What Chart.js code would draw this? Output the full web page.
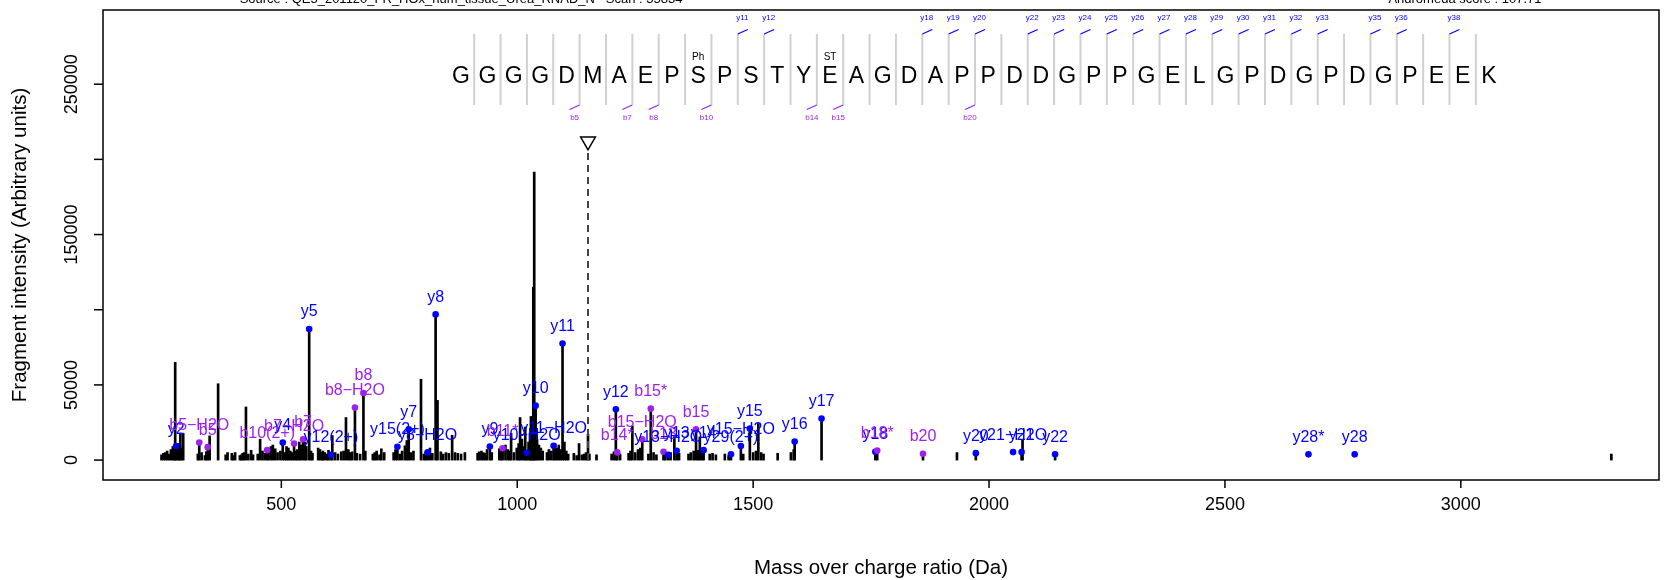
<!DOCTYPE html>
<html>
<head>
<meta charset="utf-8">
<script src="https://cdn.jsdelivr.net/npm/chart.js@4.4.0/dist/chart.umd.min.js"></script>
<style>
html, body { margin: 0; padding: 0; background: #fff; overflow: hidden; }
canvas { display: block; }
</style>
</head>
<body>
<canvas id="spectrum" width="1669" height="580"></canvas>
<script>
// all fragment peaks (m/z, intensity)
const peakMz = [
  246, 250, 254, 258, 262, 266, 270, 273, 275, 277, 281, 283, 286, 289, 292,
  323, 326, 331, 338, 341, 344, 348, 366, 382, 386, 395, 398, 402,
  412, 415, 418, 421, 425, 430, 436, 440, 450, 455, 460, 465, 470, 473, 478, 482, 487,
  492, 498, 503, 507, 511, 515, 519, 523, 527, 531, 534, 538, 541, 546, 550, 553, 559, 563, 566,
  578, 582, 586, 588, 592, 597, 600, 605, 608, 614, 620,
  627, 632, 637, 642, 646, 650, 656, 660, 667, 674, 678,
  694, 698, 702, 708, 712, 718, 738, 742, 746, 751, 756, 762, 766, 770, 775, 780,
  796, 802, 806, 810, 815, 820, 827, 831, 838, 843, 849, 855, 862, 868, 874, 881, 889,
  916, 919, 924, 928, 932, 936, 942, 946,
  962, 966, 969, 975, 980, 984, 987, 993, 999, 1003, 1006, 1010, 1014, 1017, 1020, 1024, 1027,
  1029, 1031, 1034, 1036, 1039, 1042, 1046, 1050, 1054,
  1063, 1067, 1072, 1077, 1080, 1084, 1088, 1092, 1096, 1100, 1104, 1108,
  1120, 1126, 1131, 1137, 1142, 1146, 1150, 1153, 1168,
  1200, 1205, 1209, 1212, 1218, 1236, 1240, 1244, 1250, 1256, 1261, 1265,
  1278, 1283, 1289, 1295, 1310, 1314, 1320, 1325, 1333, 1338, 1343,
  1363, 1368, 1374, 1379, 1383, 1387, 1392, 1395, 1408, 1414, 1421,
  1440, 1448, 1453, 1474, 1479, 1493, 1500, 1506, 1511, 1517, 1522,
  1552, 1580, 1586, 1588, 1645, 1759, 1763, 1860, 1932, 1972, 2069, 2071, 2140, 3319
];
const peakInt = [
  3500, 4500, 5000, 6000, 4000, 7000, 9000, 6000, 65000, 9300, 10000, 11000, 18000, 8000, 17700,
  4000, 11700, 5000, 3000, 5500, 8600, 16100, 50800, 3500, 5000, 4500, 3000, 5000,
  3000, 3500, 4500, 5000, 35300, 4000, 6500, 3500, 4000, 13900, 6000, 4500, 6600, 5000, 9000, 10000, 7500,
  5000, 6000, 11700, 5000, 9000, 8000, 6000, 5000, 11000, 6000, 7000, 12000, 10000, 13900, 12000, 9000, 87200, 6000, 4500,
  8000, 7000, 5000, 6000, 5000, 4000, 6500, 3500, 16300, 5000, 4000,
  5500, 6000, 28300, 7000, 5000, 5500, 34900, 4500, 4000, 44600, 6000,
  4000, 5000, 6000, 3500, 7500, 5000, 5000, 7000, 8800, 4000, 6000, 9500, 13000, 20500, 5000, 6000,
  53800, 4000, 5500, 5100, 8000, 4500, 96900, 39700, 5500, 4000, 5000, 4500, 16500, 5000, 4500, 4000, 5000,
  4500, 5500, 6000, 5000, 4500, 7000, 9000, 5000,
  7500, 9000, 7900, 10000, 7000, 6000, 17700, 5000, 8000, 11000, 28300, 14000, 9000, 22000, 4800, 12000, 18000,
  29000, 28700, 115000, 191500, 36200, 14000, 10000, 8000, 6000,
  5000, 7000, 6000, 9500, 11000, 8000, 10000, 7000, 77500, 12000, 6000, 4000,
  4500, 3000, 11000, 3500, 4000, 5000, 17200, 4000, 3500,
  4000, 5500, 33800, 5100, 4000, 4500, 6000, 22700, 5000, 7000, 8000, 13900,
  4000, 34200, 5000, 3500, 5500, 4000, 3500, 5000, 15400, 6200, 4500,
  4000, 5000, 6000, 20500, 6500, 15400, 5000, 6600, 4000, 4500, 3500,
  4000, 3000, 3800, 9300, 4000, 21000, 5000, 6000, 24300, 5000, 4000,
  4500, 5000, 7000, 12400, 27600, 5500, 6400, 4200, 5000, 4600, 5300, 13700, 3800, 4000
];

// annotated fragment ions
const ionLabels = [
  'y2', 'b5\u2212H2O', 'b5', 'b10(2+)', 'y4', 'b7\u2212H2O', 'b7', 'y5', 'y12(2+)', 'b8\u2212H2O', 'b8',
  'y15(2+)', 'y7', 'y8\u2212H2O', 'y8', 'y9', 'b11*', 'y10\u2212H2O', 'y10', 'y11\u2212H2O', 'y11',
  'y12', 'b14*', 'b15\u2212H2O', 'b15*', 'b13', 'y13\u2212H2O', 'y13', 'b15', 'y14', 'y29(2+)',
  'y15\u2212H2O', 'y15', 'y16', 'y17', 'y18', 'b18*', 'b20', 'y20', 'y21\u2212H2O', 'y21', 'y22',
  'y28*', 'y28'
];
const ionMz = [
  277, 326, 344, 470, 503, 527, 546, 559, 605, 656, 674,
  746, 770, 810, 827, 942, 969, 1020, 1039, 1077, 1096,
  1209, 1212, 1265, 1283, 1310, 1320, 1338, 1379, 1395, 1453,
  1474, 1493, 1588, 1645, 1759, 1763, 1860, 1972, 2051, 2069, 2140,
  2677, 2775
];
const ionInt = [
  9300, 11700, 8600, 6600, 11700, 11000, 13900, 87200, 3500, 34900, 44600,
  8800, 20500, 5100, 96900, 9000, 7900, 4800, 36200, 9500, 77500,
  33800, 5100, 13900, 34200, 5500, 3500, 6200, 20500, 6600, 3800,
  9300, 21000, 12400, 27600, 5500, 6400, 4200, 4600, 5300, 5300, 3800,
  3800, 3800
];
const ionSeries = ionLabels.map(l => l[0]);

// peptide sequence and fragment coverage (separator index from the left)
const sequence = 'GGGGDMAEPSPSTYEAGDAPPDDGPPGELGPDGPDGPEEK'.split('');
const yCoverage = [11, 12, 18, 19, 20, 22, 23, 24, 25, 26, 27, 28, 29, 30, 31, 32, 33, 35, 36, 38];
const bCoverage = [5, 7, 8, 10, 14, 15, 20];
const modSites = [10, 15];
const modNames = ['Ph', 'ST'];

const precursorMz = 1150;
const precursorTop = 212000;

const xTicks = [500, 1000, 1500, 2000, 2500, 3000];
const yTicks = [0, 50000, 100000, 150000, 200000, 250000];
const yTickLabels = ['0', '50000', '', '150000', '', '250000'];

const sourceText = 'Source : QE5_201120_FR_HOx_hum_tissue_Urea_RNAD_N   Scan : 35834';
const scoreText = 'Andromeda score : 107.71';

const BLUE = '#0000FF';
const PURPLE = '#A020F0';
const FONT = '"Liberation Sans", Arial, Helvetica, sans-serif';

const ionColor = s => (s === 'b' ? PURPLE : BLUE);

function line(ctx, x1, y1, x2, y2) {
  ctx.beginPath();
  ctx.moveTo(x1, y1);
  ctx.lineTo(x2, y2);
  ctx.stroke();
}

// frame, axes, titles
const axesPlugin = {
  id: 'axesPlugin',
  afterDraw(chart) {
    const { ctx, chartArea: a, scales: { x, y } } = chart;
    ctx.save();
    ctx.strokeStyle = '#000';
    ctx.fillStyle = '#000';
    ctx.lineWidth = 1.5;
    ctx.strokeRect(a.left, a.top, a.right - a.left, a.bottom - a.top);

    ctx.font = '18px ' + FONT;
    ctx.textAlign = 'center';
    ctx.textBaseline = 'middle';
    xTicks.forEach(v => {
      const px = x.getPixelForValue(v);
      line(ctx, px, a.bottom, px, a.bottom + 8);
      ctx.fillText(String(v), px, 505);
    });
    yTicks.forEach((v, i) => {
      const py = y.getPixelForValue(v);
      line(ctx, a.left - 9, py, a.left, py);
      if (yTickLabels[i]) {
        ctx.save();
        ctx.translate(72, py);
        ctx.rotate(-Math.PI / 2);
        ctx.fillText(yTickLabels[i], 0, 0);
        ctx.restore();
      }
    });

    ctx.font = '20.5px ' + FONT;
    ctx.fillText('Mass over charge ratio (Da)', (a.left + a.right) / 2, 568);
    ctx.save();
    ctx.translate(20, (a.top + a.bottom) / 2);
    ctx.rotate(-Math.PI / 2);
    ctx.fillText('Fragment intensity (Arbitrary units)', 0, 0);
    ctx.restore();

    ctx.font = '13px ' + FONT;
    ctx.textBaseline = 'alphabetic';
    ctx.fillText(sourceText, 461, 3);
    ctx.fillText(scoreText, 1465, 3);
    ctx.restore();
  }
};

// peptide sequence with b / y coverage marks
const sequencePlugin = {
  id: 'sequencePlugin',
  afterDraw(chart) {
    const { ctx } = chart;
    const left = 461, step = 26.36;
    const sepTop = 34, sepBottom = 105, letterY = 77;
    ctx.save();
    ctx.strokeStyle = '#D0D0D0';
    ctx.lineWidth = 2;
    for (let k = 1; k < sequence.length; k++) {
      const sx = left + (k - 0.5) * step;
      line(ctx, sx, sepTop, sx, sepBottom);
    }
    ctx.fillStyle = '#000';
    ctx.font = '23px ' + FONT;
    ctx.textAlign = 'center';
    ctx.textBaseline = 'middle';
    sequence.forEach((aa, i) => ctx.fillText(aa, left + i * step, letterY));

    ctx.font = '10px ' + FONT;
    modSites.forEach((site, i) => ctx.fillText(modNames[i], left + (site - 1) * step, 57));

    ctx.lineWidth = 1.2;
    ctx.font = '8px ' + FONT;
    ctx.strokeStyle = BLUE;
    ctx.fillStyle = BLUE;
    yCoverage.forEach(k => {
      const sx = left + (k - 0.5) * step;
      line(ctx, sx, sepTop, sx + 10, sepTop - 4.5);
      ctx.fillText('y' + k, sx + 4.5, 18);
    });
    ctx.strokeStyle = PURPLE;
    ctx.fillStyle = PURPLE;
    bCoverage.forEach(k => {
      const sx = left + (k - 0.5) * step;
      line(ctx, sx, sepBottom, sx - 10, sepBottom + 4.5);
      ctx.fillText('b' + k, sx - 5, 118);
    });
    ctx.restore();
  }
};

// ion labels above the matched peaks
const ionLabelPlugin = {
  id: 'ionLabelPlugin',
  afterDatasetsDraw(chart) {
    const { ctx } = chart;
    const meta = chart.getDatasetMeta(2);
    ctx.save();
    ctx.font = '16px ' + FONT;
    ctx.textAlign = 'center';
    ctx.textBaseline = 'middle';
    meta.data.forEach((pt, i) => {
      ctx.fillStyle = ionColor(ionSeries[i]);
      ctx.fillText(ionLabels[i], pt.x, pt.y - 17);
    });
    ctx.restore();
  }
};

new Chart(document.getElementById('spectrum'), {
  type: 'bar',
  data: {
    datasets: [
      {
        type: 'bar',
        data: peakMz.map((m, i) => ({ x: m, y: peakInt[i] })),
        backgroundColor: '#000',
        barThickness: 2,
        order: 3
      },
      {
        type: 'line',
        data: [{ x: precursorMz, y: 0 }, { x: precursorMz, y: precursorTop }],
        borderColor: '#444',
        borderWidth: 2,
        borderDash: [7, 5],
        pointRadius: [0, 8.5],
        pointStyle: 'triangle',
        pointRotation: 180,
        pointBackgroundColor: '#fff',
        pointBorderColor: '#000',
        pointBorderWidth: 1.5,
        order: 2
      },
      {
        type: 'scatter',
        data: ionMz.map((m, i) => ({ x: m, y: ionInt[i] })),
        pointRadius: 3.3,
        pointBorderWidth: 0,
        pointBackgroundColor: ionSeries.map(ionColor),
        order: 0
      }
    ]
  },
  options: {
    responsive: false,
    animation: false,
    devicePixelRatio: 1,
    layout: { padding: { left: 103, right: 3, top: 8, bottom: 100 } },
    plugins: { legend: { display: false }, tooltip: { enabled: false } },
    scales: {
      x: { type: 'linear', min: 122, max: 3420, offset: false, display: false },
      y: { type: 'linear', min: -13250, max: 299350, display: false }
    }
  },
  plugins: [axesPlugin, sequencePlugin, ionLabelPlugin]
});
</script>
</body>
</html>
